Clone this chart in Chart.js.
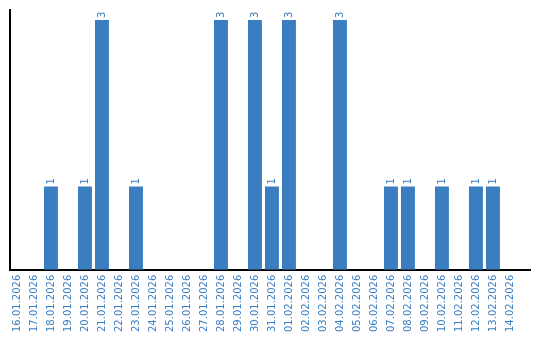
<!DOCTYPE html>
<html><head><meta charset="utf-8">
<script src="https://cdn.jsdelivr.net/npm/chart.js@4/dist/chart.umd.min.js"></script>
<style>html,body{margin:0;padding:0;background:#fff}#wrap{width:540px;height:340px}</style>
</head><body><div id="wrap"><canvas id="c" width="540" height="340"></canvas></div>
<script>
const categories = ["16.01.2026","17.01.2026","18.01.2026","19.01.2026","20.01.2026","21.01.2026","22.01.2026","23.01.2026","24.01.2026","25.01.2026","26.01.2026","27.01.2026","28.01.2026","29.01.2026","30.01.2026","31.01.2026","01.02.2026","02.02.2026","03.02.2026","04.02.2026","05.02.2026","06.02.2026","07.02.2026","08.02.2026","09.02.2026","10.02.2026","11.02.2026","12.02.2026","13.02.2026","14.02.2026"];
const values = [0,0,1,0,1,3,0,1,0,0,0,0,3,0,3,1,3,0,0,3,0,0,1,1,0,1,0,1,1,0];
const yMax = 3.12;

const blue = '#3a7ec1';
const points = categories.map((c, i) => ({ x: i, y: values[i] }));

const valueLabels = {
  id: 'valueLabels',
  afterDatasetsDraw(chart) {
    const ctx = chart.ctx;
    const meta = chart.getDatasetMeta(0);
    ctx.save();
    ctx.font = '10px "DejaVu Sans"';
    ctx.fillStyle = blue;
    ctx.textAlign = 'left';
    ctx.textBaseline = 'middle';
    meta.data.forEach((bar, i) => {
      const v = values[i];
      if (!v) return;
      ctx.save();
      ctx.translate(bar.x, bar.y - 2);
      ctx.rotate(-Math.PI / 2);
      ctx.fillText(String(v), 0, 0);
      ctx.restore();
    });
    ctx.restore();
  }
};

new Chart(document.getElementById('c'), {
  type: 'bar',
  data: { datasets: [{ data: points, backgroundColor: blue, barPercentage: 0.82, categoryPercentage: 1.0 }] },
  options: {
    responsive: false, animation: false, devicePixelRatio: 1,
    layout: { padding: { left: 10, right: 10, top: 10, bottom: 3 } },
    plugins: { legend: { display: false }, tooltip: { enabled: false } },
    scales: {
      x: {
        type: 'linear', min: -0.41, max: 30.18, offset: false,
        afterBuildTicks: s => { s.ticks = categories.map((c, i) => ({ value: i })); },
        grid: { display: false, drawTicks: false },
        border: { display: true, color: '#000', width: 2 },
        ticks: { color: blue, font: { family: 'DejaVu Sans', size: 10 }, minRotation: 90, maxRotation: 90, padding: 5, autoSkip: false,
          callback: v => categories[v] ?? '' }
      },
      y: {
        min: 0, max: yMax,
        grid: { display: false, drawTicks: false },
        border: { display: true, color: '#000', width: 2 },
        ticks: { display: false }
      }
    }
  },
  plugins: [valueLabels]
});
</script></body></html>
